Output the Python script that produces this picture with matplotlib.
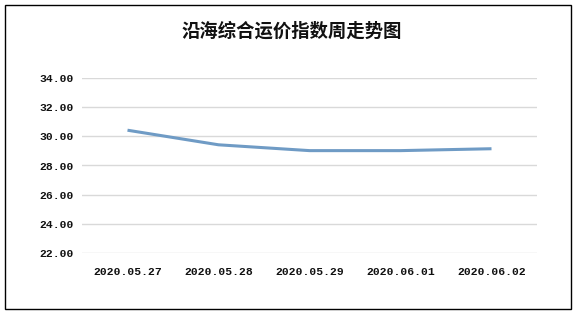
import matplotlib
matplotlib.use("Agg")
import matplotlib.pyplot as plt
from matplotlib.patches import Rectangle

categories = ["2020.05.27", "2020.05.28", "2020.05.29", "2020.06.01", "2020.06.02"]
values = [30.42, 29.42, 29.02, 29.02, 29.15]
yticks = [22, 24, 26, 28, 30, 32, 34]
title = "沿海综合运价指数周走势图"

W, H = 577, 316
fig = plt.figure(figsize=(W / 100, H / 100), dpi=100)
fig.patch.set_facecolor("white")

# outer border
fig.add_artist(Rectangle((5 / W, 1 - 309 / H), (571 - 5) / W, (309 - 5) / H,
                         transform=fig.transFigure, fill=False,
                         edgecolor="black", linewidth=1.0))

ax = fig.add_axes([82 / W, 1 - 253 / H, (537 - 82) / W, (253 - 78) / H])
x = list(range(len(categories)))
ax.plot(x, values, color="#6f9bc5", linewidth=2.2, solid_capstyle="butt", zorder=3)
ax.set_xlim(-0.5, len(categories) - 0.5)
ax.set_ylim(22, 34)
ax.set_yticks(yticks)
ax.set_yticklabels([f"{v:.2f}" for v in yticks])
ax.set_xticks(x)
ax.set_xticklabels(categories)
ax.grid(axis="y", color="#d9d9d9", linewidth=1.0)
ax.set_axisbelow(True)
for s in ax.spines.values():
    s.set_visible(False)
ax.tick_params(length=0)
ax.tick_params(axis="y", pad=6)
ax.tick_params(axis="x", pad=10)
for lab in ax.get_yticklabels() + ax.get_xticklabels():
    lab.set_fontfamily(["Liberation Mono", "DejaVu Sans Mono"])
    lab.set_fontweight("bold")
    lab.set_fontsize(8.2)
    lab.set_color("#111111")

fig.text(292 / W, 1 - 31 / H, title,
         family=["Noto Sans CJK SC", "DejaVu Sans"], fontsize=13.2,
         fontweight="bold", ha="center", va="center", color="#111111")

fig.savefig("out.png", dpi=100, facecolor="white")
